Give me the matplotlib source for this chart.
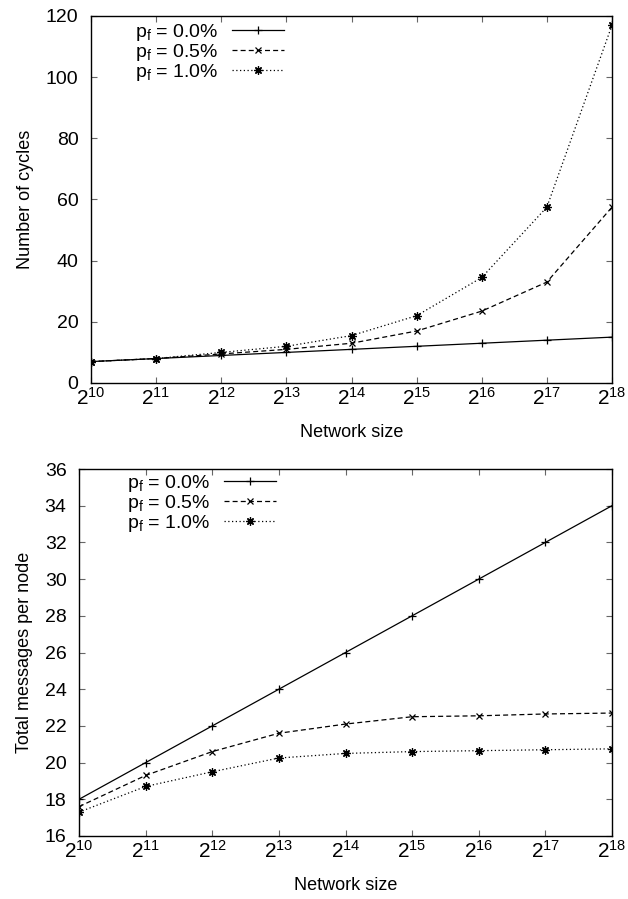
import matplotlib
matplotlib.use("Agg")
import matplotlib.pyplot as plt
import numpy as np

plt.rcParams['font.family'] = ['Liberation Sans', 'DejaVu Sans']

exps = [10, 11, 12, 13, 14, 15, 16, 17, 18]
labels = ["$\\mathregular{p_f}$ = 0.0%", "$\\mathregular{p_f}$ = 0.5%", "$\\mathregular{p_f}$ = 1.0%"]

cycles_00 = [7, 8, 9, 10, 11, 12, 13, 14, 15]
cycles_05 = [7, 8, 9.5, 11, 13, 17, 23.5, 33, 57.5]
cycles_10 = [7, 8, 10, 12, 15.5, 22, 34.5, 57.5, 117]

msgs_00 = [18, 20, 22, 24, 26, 28, 30, 32, 34]
msgs_05 = [17.6, 19.3, 20.6, 21.6, 22.1, 22.5, 22.55, 22.65, 22.7]
msgs_10 = [17.3, 18.7, 19.5, 20.25, 20.5, 20.6, 20.65, 20.7, 20.75]

W, H = 628, 899
fig = plt.figure(figsize=(W/100, H/100), dpi=100)
ax1 = fig.add_axes([91/W, 1-383/H, (612-91)/W, (383-16)/H])
ax2 = fig.add_axes([79/W, 1-836/H, (612-79)/W, (836-469)/H])

styles = [
    dict(ls='-', marker='+', ms=6),
    dict(ls=(0, (4, 2.5)), marker='x', ms=5),
    dict(ls=(0, (1, 2)), marker=(8, 2, 0), ms=6),
]

def draw(ax, series, ylim, yticks, ylabel, ylab_x, leg_xy):
    for s, st, lab in zip(series, styles, labels):
        ax.plot(exps, s, color='black', lw=0.9, mew=0.9, label=lab, **st)
    ax.set_xlim(10, 18)
    ax.set_ylim(*ylim)
    ax.set_yticks(yticks)
    ax.set_xticks(exps)
    ax.set_xticklabels(["$\\mathregular{2^{%d}}$" % e for e in exps])
    ax.tick_params(direction='in', top=True, right=True, length=4, width=0.8, color='#666666')
    ax.tick_params(axis='x', labelsize=15, pad=3)
    ax.tick_params(axis='y', labelsize=14, pad=9)
    ax.set_xlabel("Network size", fontsize=13)
    ax.set_ylabel(ylabel, fontsize=13)
    ax.xaxis.set_label_coords(0.5, -0.112)
    ax.yaxis.set_label_coords(ylab_x, 0.5)
    for sp in ax.spines.values():
        sp.set_linewidth(1)
    ax.legend(loc='upper left', bbox_to_anchor=(leg_xy[0]/W, 1-leg_xy[1]/H),
              bbox_transform=fig.transFigure, frameon=False, markerfirst=False,
              fontsize=14, handlelength=2.7, handletextpad=0.7, labelspacing=-0.06,
              borderpad=0, borderaxespad=0)

draw(ax1, [cycles_00, cycles_05, cycles_10], (0, 120), range(0, 121, 20), "Number of cycles",
     (34-91)/521, (135, 22))
draw(ax2, [msgs_00, msgs_05, msgs_10], (16, 36), range(16, 37, 2), "Total messages per node",
     (33-79)/533, (127, 473))

fig.savefig("out.png", dpi=100)
